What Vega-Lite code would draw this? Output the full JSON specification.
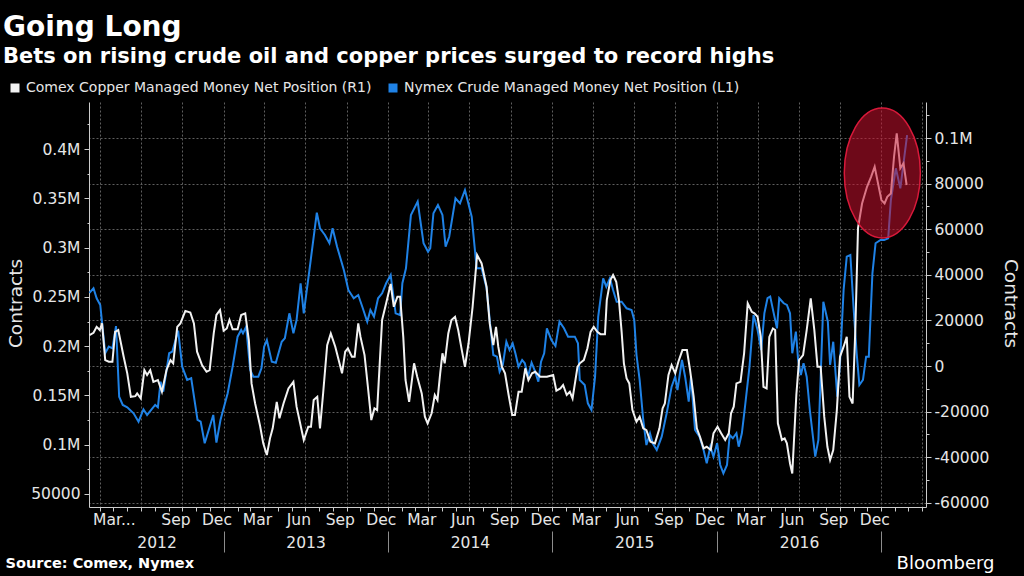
{
  "$schema": "https://vega.github.io/schema/vega-lite/v6.json",
  "autosize": {"type": "none"},
  "padding": {"left": 89, "top": 102, "right": 98, "bottom": 69},
  "width": 837,
  "height": 405,
  "background": "#000000",
  "title": {
    "text": "Going Long",
    "subtitle": "Bets on rising crude oil and copper prices surged to record highs",
    "anchor": "start",
    "frame": "group",
    "dx": -86,
    "offset": 14,
    "font": "DejaVu Sans",
    "fontSize": 28,
    "fontWeight": "bold",
    "color": "#ffffff",
    "subtitleFont": "DejaVu Sans",
    "subtitleFontSize": 21,
    "subtitleFontWeight": "bold",
    "subtitleColor": "#ffffff",
    "subtitlePadding": 4
  },
  "datasets": {
    "crude": [
      {"date": "2012-03-09", "value": 254000}, {"date": "2012-03-18", "value": 258700}, {"date": "2012-03-25", "value": 248600},
      {"date": "2012-04-02", "value": 241800}, {"date": "2012-04-13", "value": 192800}, {"date": "2012-04-21", "value": 199500},
      {"date": "2012-04-29", "value": 197800}, {"date": "2012-05-07", "value": 220400}, {"date": "2012-05-14", "value": 148700},
      {"date": "2012-05-22", "value": 140300}, {"date": "2012-06-01", "value": 138000}, {"date": "2012-06-15", "value": 131900},
      {"date": "2012-06-26", "value": 123400}, {"date": "2012-07-07", "value": 135900}, {"date": "2012-07-15", "value": 130200},
      {"date": "2012-08-02", "value": 140300}, {"date": "2012-08-08", "value": 138000}, {"date": "2012-08-14", "value": 163900},
      {"date": "2012-08-20", "value": 153800}, {"date": "2012-09-02", "value": 192800}, {"date": "2012-09-09", "value": 194400},
      {"date": "2012-09-22", "value": 215700}, {"date": "2012-10-01", "value": 179200}, {"date": "2012-10-12", "value": 165700},
      {"date": "2012-10-21", "value": 167400}, {"date": "2012-11-04", "value": 125100}, {"date": "2012-11-11", "value": 123400},
      {"date": "2012-11-20", "value": 101500}, {"date": "2012-12-09", "value": 130200}, {"date": "2012-12-16", "value": 102100},
      {"date": "2012-12-25", "value": 125100}, {"date": "2013-01-10", "value": 152200}, {"date": "2013-01-21", "value": 179200},
      {"date": "2013-02-01", "value": 209600}, {"date": "2013-02-09", "value": 216400}, {"date": "2013-02-13", "value": 213000},
      {"date": "2013-02-20", "value": 219700}, {"date": "2013-03-01", "value": 175800}, {"date": "2013-03-08", "value": 169000},
      {"date": "2013-03-19", "value": 169000}, {"date": "2013-03-26", "value": 177500}, {"date": "2013-04-01", "value": 199500},
      {"date": "2013-04-07", "value": 206200}, {"date": "2013-04-18", "value": 184200}, {"date": "2013-04-27", "value": 183200},
      {"date": "2013-05-10", "value": 204500}, {"date": "2013-05-17", "value": 208000}, {"date": "2013-05-27", "value": 233300},
      {"date": "2013-06-05", "value": 213000}, {"date": "2013-06-12", "value": 226500}, {"date": "2013-06-21", "value": 263800},
      {"date": "2013-06-28", "value": 233300}, {"date": "2013-07-12", "value": 282300}, {"date": "2013-07-27", "value": 335400},
      {"date": "2013-08-03", "value": 319600}, {"date": "2013-08-14", "value": 312800}, {"date": "2013-08-24", "value": 304400},
      {"date": "2013-08-31", "value": 319600}, {"date": "2013-09-10", "value": 300900}, {"date": "2013-09-25", "value": 277300},
      {"date": "2013-10-05", "value": 257000}, {"date": "2013-10-17", "value": 248600}, {"date": "2013-10-27", "value": 251900},
      {"date": "2013-11-05", "value": 240000}, {"date": "2013-11-16", "value": 224800}, {"date": "2013-11-23", "value": 236700},
      {"date": "2013-12-01", "value": 229900}, {"date": "2013-12-10", "value": 248600}, {"date": "2013-12-19", "value": 253600},
      {"date": "2013-12-28", "value": 263800}, {"date": "2014-01-07", "value": 272200}, {"date": "2014-01-18", "value": 233300},
      {"date": "2014-01-28", "value": 231600}, {"date": "2014-02-02", "value": 263800}, {"date": "2014-02-10", "value": 279000},
      {"date": "2014-02-21", "value": 333100}, {"date": "2014-03-08", "value": 346600}, {"date": "2014-03-21", "value": 304400},
      {"date": "2014-03-31", "value": 295800}, {"date": "2014-04-05", "value": 299300}, {"date": "2014-04-12", "value": 334800},
      {"date": "2014-04-22", "value": 343200}, {"date": "2014-05-02", "value": 333100}, {"date": "2014-05-09", "value": 300900},
      {"date": "2014-05-17", "value": 311000}, {"date": "2014-05-31", "value": 350000}, {"date": "2014-06-10", "value": 344900},
      {"date": "2014-06-21", "value": 358400}, {"date": "2014-07-06", "value": 331300}, {"date": "2014-07-17", "value": 279000},
      {"date": "2014-07-28", "value": 279000}, {"date": "2014-08-08", "value": 259000}, {"date": "2014-08-15", "value": 226500},
      {"date": "2014-08-23", "value": 191000}, {"date": "2014-08-31", "value": 189300}, {"date": "2014-09-06", "value": 174100},
      {"date": "2014-09-13", "value": 180900}, {"date": "2014-09-21", "value": 204500}, {"date": "2014-09-28", "value": 196100},
      {"date": "2014-10-05", "value": 202900}, {"date": "2014-10-11", "value": 192800}, {"date": "2014-10-18", "value": 179200},
      {"date": "2014-10-26", "value": 186000}, {"date": "2014-11-01", "value": 182600}, {"date": "2014-11-08", "value": 169000},
      {"date": "2014-11-16", "value": 183200}, {"date": "2014-11-24", "value": 174100}, {"date": "2014-12-01", "value": 163900},
      {"date": "2014-12-07", "value": 184200}, {"date": "2014-12-14", "value": 192800}, {"date": "2014-12-20", "value": 218100},
      {"date": "2014-12-30", "value": 206200}, {"date": "2015-01-08", "value": 200200}, {"date": "2015-01-17", "value": 224800},
      {"date": "2015-01-27", "value": 218100}, {"date": "2015-02-05", "value": 209600}, {"date": "2015-02-20", "value": 209600},
      {"date": "2015-02-27", "value": 202900}, {"date": "2015-03-03", "value": 165700}, {"date": "2015-03-14", "value": 160600},
      {"date": "2015-03-21", "value": 142000}, {"date": "2015-03-29", "value": 135200}, {"date": "2015-04-06", "value": 169000},
      {"date": "2015-04-13", "value": 229900}, {"date": "2015-04-24", "value": 268800}, {"date": "2015-05-01", "value": 260300},
      {"date": "2015-05-09", "value": 268800}, {"date": "2015-05-16", "value": 257000}, {"date": "2015-05-24", "value": 245100},
      {"date": "2015-06-04", "value": 245100}, {"date": "2015-06-15", "value": 238400}, {"date": "2015-06-26", "value": 236700},
      {"date": "2015-07-02", "value": 226500}, {"date": "2015-07-07", "value": 191000}, {"date": "2015-07-14", "value": 165700},
      {"date": "2015-07-22", "value": 125100}, {"date": "2015-07-29", "value": 99700}, {"date": "2015-08-06", "value": 111600},
      {"date": "2015-08-12", "value": 101500}, {"date": "2015-08-21", "value": 94700}, {"date": "2015-09-01", "value": 108100},
      {"date": "2015-09-12", "value": 131900}, {"date": "2015-09-23", "value": 158900}, {"date": "2015-10-01", "value": 169000},
      {"date": "2015-10-06", "value": 155500}, {"date": "2015-10-16", "value": 186000}, {"date": "2015-10-23", "value": 169000},
      {"date": "2015-10-31", "value": 143700}, {"date": "2015-11-05", "value": 169000}, {"date": "2015-11-14", "value": 114900},
      {"date": "2015-11-24", "value": 108100}, {"date": "2015-12-03", "value": 94700}, {"date": "2015-12-10", "value": 81200},
      {"date": "2015-12-18", "value": 98000}, {"date": "2015-12-25", "value": 87900}, {"date": "2016-01-02", "value": 101500},
      {"date": "2016-01-09", "value": 79400}, {"date": "2016-01-16", "value": 71000}, {"date": "2016-01-24", "value": 79400},
      {"date": "2016-01-30", "value": 109900}, {"date": "2016-02-06", "value": 106500}, {"date": "2016-02-14", "value": 111600},
      {"date": "2016-02-19", "value": 98000}, {"date": "2016-02-26", "value": 111600}, {"date": "2016-03-04", "value": 138600},
      {"date": "2016-03-14", "value": 179200}, {"date": "2016-03-23", "value": 231600}, {"date": "2016-04-01", "value": 216400},
      {"date": "2016-04-09", "value": 196100}, {"date": "2016-04-16", "value": 233300}, {"date": "2016-04-23", "value": 248600},
      {"date": "2016-04-29", "value": 250200}, {"date": "2016-05-06", "value": 235000}, {"date": "2016-05-14", "value": 218100},
      {"date": "2016-05-19", "value": 248600}, {"date": "2016-05-29", "value": 243500}, {"date": "2016-06-05", "value": 241800},
      {"date": "2016-06-12", "value": 233300}, {"date": "2016-06-17", "value": 192800}, {"date": "2016-06-25", "value": 214700},
      {"date": "2016-06-30", "value": 186000}, {"date": "2016-07-06", "value": 170700}, {"date": "2016-07-12", "value": 182600},
      {"date": "2016-07-19", "value": 169000}, {"date": "2016-07-26", "value": 135200}, {"date": "2016-08-07", "value": 87900},
      {"date": "2016-08-14", "value": 104800}, {"date": "2016-08-25", "value": 245100}, {"date": "2016-09-04", "value": 224800},
      {"date": "2016-09-09", "value": 180900}, {"date": "2016-09-16", "value": 204500}, {"date": "2016-09-25", "value": 148700},
      {"date": "2016-10-01", "value": 182600}, {"date": "2016-10-09", "value": 257000}, {"date": "2016-10-16", "value": 290800},
      {"date": "2016-10-24", "value": 292500}, {"date": "2016-10-31", "value": 240000}, {"date": "2016-11-07", "value": 192800},
      {"date": "2016-11-13", "value": 160600}, {"date": "2016-11-21", "value": 165700}, {"date": "2016-11-28", "value": 189300},
      {"date": "2016-12-04", "value": 189300}, {"date": "2016-12-12", "value": 273900}, {"date": "2016-12-19", "value": 304400},
      {"date": "2016-12-30", "value": 307700}, {"date": "2017-01-07", "value": 307700}, {"date": "2017-01-16", "value": 309400},
      {"date": "2017-01-22", "value": 348300}, {"date": "2017-02-02", "value": 380400}, {"date": "2017-02-12", "value": 360100},
      {"date": "2017-02-19", "value": 385500}, {"date": "2017-02-27", "value": 414200}
    ],
    "copper": [
      {"date": "2012-03-09", "value": 13600}, {"date": "2012-03-18", "value": 14600}, {"date": "2012-03-25", "value": 17200},
      {"date": "2012-04-01", "value": 15800}, {"date": "2012-04-06", "value": 18700}, {"date": "2012-04-13", "value": 2600},
      {"date": "2012-04-21", "value": 1900}, {"date": "2012-04-29", "value": 1900}, {"date": "2012-05-05", "value": 15000},
      {"date": "2012-05-12", "value": 15800}, {"date": "2012-05-24", "value": 4100}, {"date": "2012-06-01", "value": -3200},
      {"date": "2012-06-09", "value": -13500}, {"date": "2012-06-19", "value": -13200}, {"date": "2012-06-23", "value": -12000},
      {"date": "2012-07-01", "value": -14200}, {"date": "2012-07-09", "value": -1800}, {"date": "2012-07-15", "value": -3900},
      {"date": "2012-07-22", "value": -1800}, {"date": "2012-07-29", "value": -6900}, {"date": "2012-08-08", "value": -6100},
      {"date": "2012-08-17", "value": -11300}, {"date": "2012-08-27", "value": -1800}, {"date": "2012-09-05", "value": 2600},
      {"date": "2012-09-11", "value": 1200}, {"date": "2012-09-20", "value": 17200}, {"date": "2012-09-27", "value": 18700},
      {"date": "2012-10-08", "value": 24200}, {"date": "2012-10-19", "value": 23500}, {"date": "2012-10-27", "value": 18700},
      {"date": "2012-11-03", "value": 6300}, {"date": "2012-11-14", "value": 400}, {"date": "2012-11-24", "value": -2500},
      {"date": "2012-12-01", "value": -1800}, {"date": "2012-12-10", "value": 14300}, {"date": "2012-12-16", "value": 22400},
      {"date": "2012-12-24", "value": 24600}, {"date": "2013-01-01", "value": 15500}, {"date": "2013-01-08", "value": 16500},
      {"date": "2013-01-14", "value": 20200}, {"date": "2013-01-21", "value": 16100}, {"date": "2013-02-01", "value": 16100},
      {"date": "2013-02-09", "value": 22400}, {"date": "2013-02-18", "value": 23100}, {"date": "2013-02-26", "value": 11400},
      {"date": "2013-03-04", "value": -7600}, {"date": "2013-03-12", "value": -16400}, {"date": "2013-03-23", "value": -26300},
      {"date": "2013-03-30", "value": -33900}, {"date": "2013-04-07", "value": -39000}, {"date": "2013-04-14", "value": -31700},
      {"date": "2013-04-20", "value": -27300}, {"date": "2013-04-29", "value": -15700}, {"date": "2013-05-05", "value": -22900},
      {"date": "2013-05-14", "value": -16400}, {"date": "2013-05-25", "value": -9800}, {"date": "2013-06-05", "value": -6900},
      {"date": "2013-06-12", "value": -17800}, {"date": "2013-06-24", "value": -28800}, {"date": "2013-06-28", "value": -32400},
      {"date": "2013-07-08", "value": -26600}, {"date": "2013-07-14", "value": -26600}, {"date": "2013-07-20", "value": -14900},
      {"date": "2013-07-28", "value": -13500}, {"date": "2013-08-03", "value": -27300}, {"date": "2013-08-10", "value": -12000},
      {"date": "2013-08-19", "value": 9200}, {"date": "2013-08-27", "value": 14300}, {"date": "2013-09-06", "value": 8500},
      {"date": "2013-09-21", "value": -3200}, {"date": "2013-09-28", "value": 6300}, {"date": "2013-10-04", "value": 7800},
      {"date": "2013-10-13", "value": 4100}, {"date": "2013-10-19", "value": 4100}, {"date": "2013-10-27", "value": 18700},
      {"date": "2013-11-01", "value": 12800}, {"date": "2013-11-10", "value": 4800}, {"date": "2013-11-17", "value": -8300},
      {"date": "2013-11-25", "value": -23700}, {"date": "2013-12-02", "value": -18500}, {"date": "2013-12-08", "value": -19300},
      {"date": "2013-12-19", "value": 20200}, {"date": "2013-12-28", "value": 27500}, {"date": "2014-01-07", "value": 36000},
      {"date": "2014-01-14", "value": 26000}, {"date": "2014-01-22", "value": 30400}, {"date": "2014-01-28", "value": 30400},
      {"date": "2014-02-04", "value": 12800}, {"date": "2014-02-09", "value": -6100}, {"date": "2014-02-17", "value": -15700},
      {"date": "2014-02-28", "value": 1200}, {"date": "2014-03-07", "value": -4700}, {"date": "2014-03-17", "value": -12000},
      {"date": "2014-03-24", "value": -22200}, {"date": "2014-03-30", "value": -25100}, {"date": "2014-04-08", "value": -20700},
      {"date": "2014-04-15", "value": -12700}, {"date": "2014-04-21", "value": -14900}, {"date": "2014-04-27", "value": -3200},
      {"date": "2014-05-02", "value": 5600}, {"date": "2014-05-07", "value": 1200}, {"date": "2014-05-15", "value": 14300},
      {"date": "2014-05-22", "value": 20200}, {"date": "2014-05-30", "value": 21600}, {"date": "2014-06-06", "value": 15800},
      {"date": "2014-06-14", "value": 7000}, {"date": "2014-06-21", "value": -300}, {"date": "2014-06-29", "value": 10000},
      {"date": "2014-07-08", "value": 26000}, {"date": "2014-07-18", "value": 48700}, {"date": "2014-07-28", "value": 45000},
      {"date": "2014-08-08", "value": 34800}, {"date": "2014-08-15", "value": 18700}, {"date": "2014-08-23", "value": 9200},
      {"date": "2014-08-29", "value": 17200}, {"date": "2014-09-03", "value": 8500}, {"date": "2014-09-11", "value": -300},
      {"date": "2014-09-18", "value": -3200}, {"date": "2014-09-26", "value": -12700}, {"date": "2014-10-04", "value": -21500},
      {"date": "2014-10-10", "value": -21500}, {"date": "2014-10-18", "value": -11300}, {"date": "2014-10-25", "value": -11300},
      {"date": "2014-11-02", "value": -1000}, {"date": "2014-11-09", "value": -6100}, {"date": "2014-11-17", "value": -3200},
      {"date": "2014-11-24", "value": -2500}, {"date": "2014-12-05", "value": -4700}, {"date": "2014-12-20", "value": -4700},
      {"date": "2015-01-03", "value": -3900}, {"date": "2015-01-10", "value": -10800}, {"date": "2015-01-19", "value": -9800},
      {"date": "2015-01-25", "value": -8300}, {"date": "2015-02-02", "value": -12700}, {"date": "2015-02-09", "value": -11300},
      {"date": "2015-02-15", "value": -14200}, {"date": "2015-02-26", "value": -300}, {"date": "2015-03-03", "value": 1200},
      {"date": "2015-03-12", "value": 2600}, {"date": "2015-03-20", "value": 7800}, {"date": "2015-03-27", "value": 15000},
      {"date": "2015-04-03", "value": 17200}, {"date": "2015-04-11", "value": 15000}, {"date": "2015-04-18", "value": 14000},
      {"date": "2015-04-28", "value": 14000}, {"date": "2015-05-02", "value": 28900}, {"date": "2015-05-10", "value": 37700},
      {"date": "2015-05-16", "value": 39900}, {"date": "2015-05-23", "value": 37000}, {"date": "2015-05-29", "value": 28900},
      {"date": "2015-06-04", "value": 15000}, {"date": "2015-06-09", "value": 1200}, {"date": "2015-06-15", "value": -5400},
      {"date": "2015-06-21", "value": -7600}, {"date": "2015-06-28", "value": -19300}, {"date": "2015-07-07", "value": -24400},
      {"date": "2015-07-14", "value": -22200}, {"date": "2015-07-22", "value": -27300}, {"date": "2015-07-29", "value": -28100},
      {"date": "2015-08-07", "value": -33200}, {"date": "2015-08-17", "value": -33900}, {"date": "2015-08-27", "value": -27300},
      {"date": "2015-09-03", "value": -18500}, {"date": "2015-09-08", "value": -16400}, {"date": "2015-09-16", "value": -3900},
      {"date": "2015-09-23", "value": 400}, {"date": "2015-10-01", "value": -3200}, {"date": "2015-10-08", "value": 1900},
      {"date": "2015-10-17", "value": 7000}, {"date": "2015-10-27", "value": 7000}, {"date": "2015-11-03", "value": -1800},
      {"date": "2015-11-11", "value": -13500}, {"date": "2015-11-18", "value": -27300}, {"date": "2015-11-25", "value": -31000},
      {"date": "2015-12-03", "value": -36100}, {"date": "2015-12-10", "value": -35400}, {"date": "2015-12-19", "value": -36800},
      {"date": "2015-12-25", "value": -29500}, {"date": "2016-01-03", "value": -26600}, {"date": "2016-01-11", "value": -29500},
      {"date": "2016-01-20", "value": -32400}, {"date": "2016-01-28", "value": -29500}, {"date": "2016-02-02", "value": -20700},
      {"date": "2016-02-08", "value": -17800}, {"date": "2016-02-14", "value": -7600}, {"date": "2016-02-23", "value": -6900},
      {"date": "2016-03-02", "value": 5600}, {"date": "2016-03-10", "value": 27500}, {"date": "2016-03-19", "value": 23800},
      {"date": "2016-03-25", "value": 23100}, {"date": "2016-04-01", "value": 21600}, {"date": "2016-04-08", "value": 12800},
      {"date": "2016-04-14", "value": -9100}, {"date": "2016-04-21", "value": -9800}, {"date": "2016-04-27", "value": 12800},
      {"date": "2016-05-05", "value": 16500}, {"date": "2016-05-10", "value": 15800}, {"date": "2016-05-16", "value": -25100},
      {"date": "2016-05-25", "value": -32400}, {"date": "2016-05-31", "value": -31700}, {"date": "2016-06-05", "value": -33900},
      {"date": "2016-06-12", "value": -42700}, {"date": "2016-06-17", "value": -47100}, {"date": "2016-06-26", "value": -12700},
      {"date": "2016-07-02", "value": 2600}, {"date": "2016-07-11", "value": 4800}, {"date": "2016-07-19", "value": 15800},
      {"date": "2016-07-28", "value": 29700}, {"date": "2016-08-05", "value": 15800}, {"date": "2016-08-12", "value": -300},
      {"date": "2016-08-19", "value": -300}, {"date": "2016-08-27", "value": -22200}, {"date": "2016-09-03", "value": -35400},
      {"date": "2016-09-09", "value": -41200}, {"date": "2016-09-16", "value": -36800}, {"date": "2016-09-24", "value": -19300},
      {"date": "2016-10-01", "value": 4100}, {"date": "2016-10-09", "value": 8500}, {"date": "2016-10-16", "value": 12800},
      {"date": "2016-10-22", "value": -13500}, {"date": "2016-10-29", "value": -16400}, {"date": "2016-11-04", "value": 15800},
      {"date": "2016-11-10", "value": 60500}, {"date": "2016-11-19", "value": 71300}, {"date": "2016-11-30", "value": 78600},
      {"date": "2016-12-09", "value": 83000}, {"date": "2016-12-17", "value": 87400}, {"date": "2016-12-26", "value": 78600},
      {"date": "2017-01-01", "value": 72800}, {"date": "2017-01-08", "value": 71300}, {"date": "2017-01-14", "value": 74200},
      {"date": "2017-01-22", "value": 75700}, {"date": "2017-01-29", "value": 91800}, {"date": "2017-02-04", "value": 102000},
      {"date": "2017-02-12", "value": 86700}, {"date": "2017-02-19", "value": 88900}, {"date": "2017-02-26", "value": 79400}
    ],
    "highlight": [
      {"date": "2017-01-03", "value": 375700}
    ]
  },
  "resolve": {"scale": {"y": "independent"}, "axis": {"x": "independent", "y": "independent"}},
  "layer": [
    {
      "data": {"name": "crude"},
      "mark": {"type": "line", "strokeWidth": 2, "interpolate": "linear"},
      "encoding": {
        "x": {
          "field": "date", "type": "temporal",
          "scale": {"domain": [{"year": 2012, "month": 3, "date": 8}, {"year": 2017, "month": 4, "date": 10}]},
          "axis": {
            "orient": "bottom", "title": null, "labels": false,
            "tickCount": {"interval": "month", "step": 1},
            "tickSize": 4, "tickColor": "#cccccc", "domainColor": "#cccccc",
            "grid": true, "gridColor": "#5e5e5e", "gridDash": [2, 2], "gridWidth": 1,
            "gridOpacity": {"condition": {"test": "month(datum.value) % 3 == 0", "value": 1}, "value": 0}
          }
        },
        "y": {
          "field": "value", "type": "quantitative",
          "scale": {"domain": [36800, 447700], "nice": false, "zero": false},
          "axis": {
            "orient": "left", "title": "Contracts",
            "values": [50000, 75000, 100000, 125000, 150000, 175000, 200000, 225000, 250000, 275000, 300000, 325000, 350000, 375000, 400000, 425000],
            "labelExpr": "datum.value % 50000 == 0 ? (datum.value >= 100000 ? (datum.value / 1000000) + 'M' : '' + datum.value) : ''",
            "tickSize": {"condition": {"test": "datum.value % 50000 != 0", "value": 2}, "value": 5},
            "labelPadding": 4, "grid": false, "labelOverlap": false,
            "titleX": -74, "titleY": 201, "titleAngle": -90, "titleAlign": "center", "titleBaseline": "middle",
            "titleFontSize": 18.5
          }
        },
        "color": {
          "datum": "Nymex Crude Managed Money Net Position (L1)",
          "type": "nominal",
          "scale": {
            "domain": ["Comex Copper Managed Money Net Position (R1)", "Nymex Crude Managed Money Net Position (L1)"],
            "range": ["#f2f2f2", "#1f82e6"]
          },
          "legend": {
            "orient": "none", "legendX": -81, "legendY": -21, "direction": "horizontal",
            "title": null, "symbolType": "square", "symbolSize": 81,
            "labelFontSize": 14, "labelColor": "#e6e6e6", "labelFont": "DejaVu Sans", "labelLimit": 600,
            "columnPadding": 14, "labelOffset": 4,
            "encode": {"symbols": {"update": {"fill": {"scale": "color", "field": "value"}, "strokeWidth": {"value": 0}}}}
          }
        }
      }
    },
    {
      "data": {"name": "copper"},
      "mark": {"type": "line", "strokeWidth": 2, "interpolate": "linear"},
      "encoding": {
        "x": {
          "field": "date", "type": "temporal",
          "scale": {"domain": [{"year": 2012, "month": 3, "date": 8}, {"year": 2017, "month": 4, "date": 10}]},
          "axis": {
            "orient": "bottom", "title": null, "ticks": false, "domain": false, "grid": false,
            "labelPadding": 5, "labelOverlap": false, "labelFlush": 6,
            "values": [
              {"year": 2012, "month": 3, "date": 16}, {"year": 2012, "month": 9, "date": 16}, {"year": 2012, "month": 12, "date": 16},
              {"year": 2013, "month": 3, "date": 16}, {"year": 2013, "month": 6, "date": 16}, {"year": 2013, "month": 9, "date": 16}, {"year": 2013, "month": 12, "date": 16},
              {"year": 2014, "month": 3, "date": 16}, {"year": 2014, "month": 6, "date": 16}, {"year": 2014, "month": 9, "date": 16}, {"year": 2014, "month": 12, "date": 16},
              {"year": 2015, "month": 3, "date": 16}, {"year": 2015, "month": 6, "date": 16}, {"year": 2015, "month": 9, "date": 16}, {"year": 2015, "month": 12, "date": 16},
              {"year": 2016, "month": 3, "date": 16}, {"year": 2016, "month": 6, "date": 16}, {"year": 2016, "month": 9, "date": 16}, {"year": 2016, "month": 12, "date": 16}
            ],
            "labelExpr": "datum.index == 0 ? 'Mar...' : timeFormat(datum.value, '%b')"
          }
        },
        "y": {
          "field": "value", "type": "quantitative",
          "scale": {"domain": [-61800, 115800], "nice": false, "zero": false},
          "axis": {
            "orient": "right", "title": "Contracts",
            "values": [-60000, -50000, -40000, -30000, -20000, -10000, 0, 10000, 20000, 30000, 40000, 50000, 60000, 70000, 80000, 90000, 100000, 110000],
            "labelExpr": "datum.value % 20000 == 0 ? (datum.value >= 100000 ? (datum.value / 1000000) + 'M' : '' + datum.value) : ''",
            "tickSize": {"condition": {"test": "datum.value % 20000 != 0", "value": 3}, "value": 5},
            "labelPadding": 3, "labelOverlap": false,
            "grid": true, "gridColor": "#5e5e5e", "gridDash": [2, 2], "gridWidth": 1,
            "gridOpacity": {"condition": {"test": "datum.value % 20000 == 0", "value": 1}, "value": 0},
            "titleX": 84, "titleY": 201, "titleAngle": 90, "titleAlign": "center", "titleBaseline": "middle",
            "titleFontSize": 18.5
          }
        },
        "color": {"datum": "Comex Copper Managed Money Net Position (R1)", "type": "nominal"}
      }
    },
    {
      "data": {"name": "crude"},
      "mark": {"type": "rule", "strokeOpacity": 0},
      "encoding": {
        "x": {
          "field": "date", "type": "temporal",
          "axis": {
            "orient": "bottom", "offset": 24, "labels": false, "domain": false, "grid": false,
            "tickSize": 21, "tickColor": "#8c8c8c", "tickWidth": 1,
            "values": [{"year": 2013, "month": 1, "date": 1}, {"year": 2014, "month": 1, "date": 1}, {"year": 2015, "month": 1, "date": 1}, {"year": 2016, "month": 1, "date": 1}, {"year": 2017, "month": 1, "date": 1}],
            "title": "Source: Comex, Nymex", "titleX": -84, "titleY": 32, "titleAlign": "left", "titleAnchor": "start",
            "titleBaseline": "middle", "titleFontSize": 14.5, "titleFontWeight": "bold", "titleColor": "#ffffff"
          }
        }
      }
    },
    {
      "data": {"name": "crude"},
      "mark": {"type": "rule", "strokeOpacity": 0},
      "encoding": {
        "x": {
          "field": "date", "type": "temporal",
          "axis": {
            "orient": "bottom", "offset": 24, "ticks": false, "domain": false, "grid": false,
            "labelPadding": 4, "labelOverlap": false, "format": "%Y",
            "values": [{"year": 2012, "month": 8, "date": 5}, {"year": 2013, "month": 7, "date": 2}, {"year": 2014, "month": 7, "date": 2}, {"year": 2015, "month": 7, "date": 2}, {"year": 2016, "month": 7, "date": 2}],
            "title": "Bloomberg", "titleX": 856, "titleY": 32, "titleAlign": "center", "titleAnchor": "start",
            "titleBaseline": "middle", "titleFontSize": 18, "titleFontWeight": "normal", "titleColor": "#ffffff"
          }
        }
      }
    },
    {
      "data": {"name": "highlight"},
      "mark": {
        "type": "point",
        "shape": "M -0.585 0 A 0.585 1 0 1 0 0.585 0 A 0.585 1 0 1 0 -0.585 0 Z",
        "size": 16900, "filled": true, "fill": "#c8102e", "fillOpacity": 0.55,
        "stroke": "#d8193a", "strokeWidth": 1.5, "strokeOpacity": 1, "opacity": 1
      },
      "encoding": {
        "x": {"field": "date", "type": "temporal", "axis": null},
        "y": {"field": "value", "type": "quantitative", "scale": {"domain": [36800, 447700], "nice": false, "zero": false}, "axis": null}
      }
    }
  ],
  "config": {
    "view": {"stroke": null},
    "axis": {
      "labelFont": "DejaVu Sans", "labelFontSize": 15.5, "labelColor": "#e6e6e6",
      "titleFont": "DejaVu Sans", "titleColor": "#e6e6e6", "titleFontWeight": "normal",
      "domainColor": "#cccccc", "tickColor": "#cccccc", "domainWidth": 1, "tickWidth": 1
    }
  }
}
